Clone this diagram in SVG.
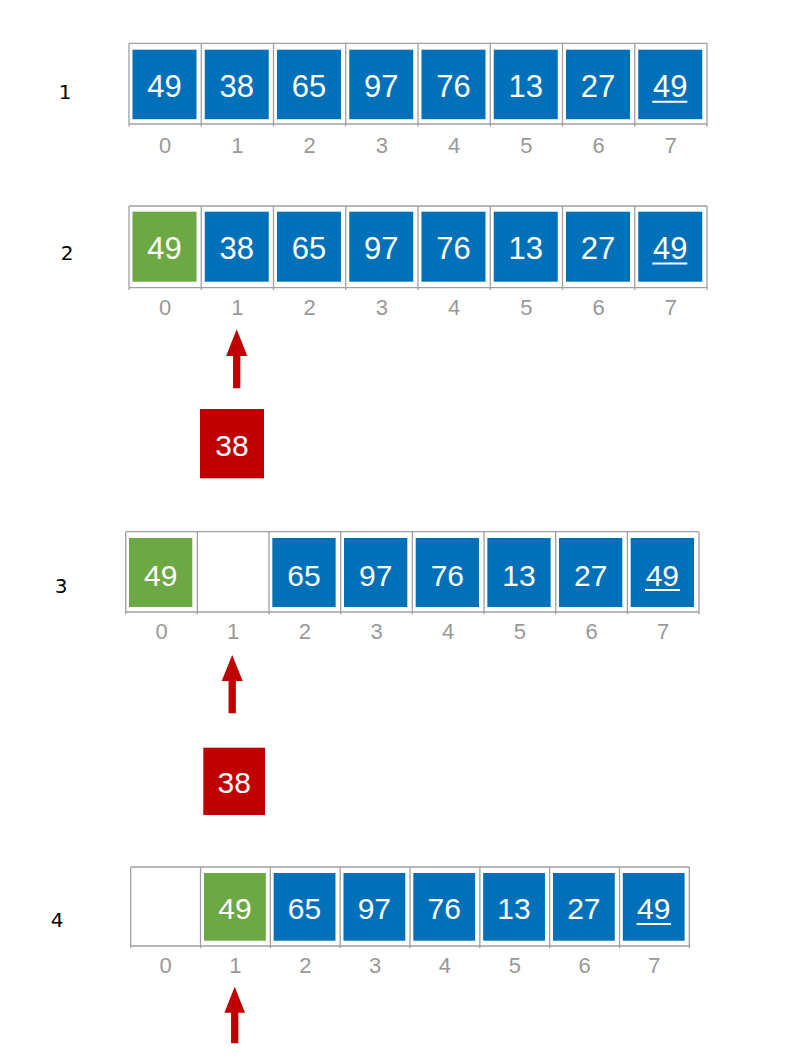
<svg xmlns="http://www.w3.org/2000/svg" width="789" height="1061" viewBox="0 0 789 1061">
<style>
.frame{fill:none;stroke:#A0A0A0;stroke-width:1.3}
.b{fill:#0070B9}
.g{fill:#6CA843}
.r{fill:#C00000}
.v{font-family:"Liberation Sans",Arial,sans-serif;fill:#fff;text-anchor:middle;font-size:31px}
.v2{font-size:30px}
.ix{font-family:"Liberation Sans",Arial,sans-serif;fill:#999;text-anchor:middle;font-size:22px}
.row{font-family:"DejaVu Sans",sans-serif;fill:#000;text-anchor:middle;font-size:20px}
.ul{stroke:#fff;stroke-width:2}
.arr{fill:#C00000}
</style>
<rect width="789" height="1061" fill="#fff"/>

<g id="row1">
<text class="row" x="65" y="99">1</text>
<path class="frame" d="M129,43.3H707M129,124H707M129,43.3V126.5M201.25,43.3V126.5M273.5,43.3V126.5M345.75,43.3V126.5M418,43.3V126.5M490.25,43.3V126.5M562.5,43.3V126.5M634.75,43.3V126.5M707,43.3V126.5"/>
<rect class="b" x="132.5" y="49.7" width="64" height="69.5"/><text class="v" x="164.5" y="97.3">49</text>
<rect class="b" x="204.75" y="49.7" width="64" height="69.5"/><text class="v" x="236.75" y="97.3">38</text>
<rect class="b" x="277" y="49.7" width="64" height="69.5"/><text class="v" x="309" y="97.3">65</text>
<rect class="b" x="349.25" y="49.7" width="64" height="69.5"/><text class="v" x="381.25" y="97.3">97</text>
<rect class="b" x="421.5" y="49.7" width="64" height="69.5"/><text class="v" x="453.5" y="97.3">76</text>
<rect class="b" x="493.75" y="49.7" width="64" height="69.5"/><text class="v" x="525.75" y="97.3">13</text>
<rect class="b" x="566" y="49.7" width="64" height="69.5"/><text class="v" x="598" y="97.3">27</text>
<rect class="b" x="638.25" y="49.7" width="64" height="69.5"/><text class="v" x="670.25" y="97.3">49</text>
<line class="ul" x1="652.3" y1="101.7" x2="687.3" y2="101.7"/>
<text class="ix" x="165.1" y="152.5">0</text><text class="ix" x="237.4" y="152.5">1</text><text class="ix" x="309.6" y="152.5">2</text><text class="ix" x="381.9" y="152.5">3</text><text class="ix" x="454.1" y="152.5">4</text><text class="ix" x="526.4" y="152.5">5</text><text class="ix" x="598.6" y="152.5">6</text><text class="ix" x="670.9" y="152.5">7</text>
</g>

<g id="row2">
<text class="row" x="67" y="260">2</text>
<path class="frame" d="M129,206H707M129,287.7H707M129,206V290M201.25,206V290M273.5,206V290M345.75,206V290M418,206V290M490.25,206V290M562.5,206V290M634.75,206V290M707,206V290"/>
<rect class="g" x="132.5" y="211.7" width="64" height="70"/><text class="v" x="164.5" y="259">49</text>
<rect class="b" x="204.75" y="211.7" width="64" height="70"/><text class="v" x="236.75" y="259">38</text>
<rect class="b" x="277" y="211.7" width="64" height="70"/><text class="v" x="309" y="259">65</text>
<rect class="b" x="349.25" y="211.7" width="64" height="70"/><text class="v" x="381.25" y="259">97</text>
<rect class="b" x="421.5" y="211.7" width="64" height="70"/><text class="v" x="453.5" y="259">76</text>
<rect class="b" x="493.75" y="211.7" width="64" height="70"/><text class="v" x="525.75" y="259">13</text>
<rect class="b" x="566" y="211.7" width="64" height="70"/><text class="v" x="598" y="259">27</text>
<rect class="b" x="638.25" y="211.7" width="64" height="70"/><text class="v" x="670.25" y="259">49</text>
<line class="ul" x1="652.3" y1="263.5" x2="687.3" y2="263.5"/>
<text class="ix" x="165.1" y="314.5">0</text><text class="ix" x="237.4" y="314.5">1</text><text class="ix" x="309.6" y="314.5">2</text><text class="ix" x="381.9" y="314.5">3</text><text class="ix" x="454.1" y="314.5">4</text><text class="ix" x="526.4" y="314.5">5</text><text class="ix" x="598.6" y="314.5">6</text><text class="ix" x="670.9" y="314.5">7</text>
</g>

<g id="temp1">
<rect class="r" x="200" y="409" width="64" height="69.3"/><text class="v v2" x="232" y="455.7">38</text>
</g>

<g id="row3">
<text class="row" x="61" y="593">3</text>
<path class="frame" d="M125.7,531.7H699.06M125.7,612H699.06M125.7,531.7V614.3M197.37,531.7V614.3M269.04,531.7V614.3M340.71,531.7V614.3M412.38,531.7V614.3M484.05,531.7V614.3M555.72,531.7V614.3M627.39,531.7V614.3M699.06,531.7V614.3"/>
<rect class="g" x="129" y="538" width="63.3" height="69"/><text class="v v2" x="160.65" y="585.7">49</text>
<rect class="b" x="272.34" y="538" width="63.3" height="69"/><text class="v v2" x="303.99" y="585.7">65</text>
<rect class="b" x="344.01" y="538" width="63.3" height="69"/><text class="v v2" x="375.66" y="585.7">97</text>
<rect class="b" x="415.68" y="538" width="63.3" height="69"/><text class="v v2" x="447.33" y="585.7">76</text>
<rect class="b" x="487.35" y="538" width="63.3" height="69"/><text class="v v2" x="519" y="585.7">13</text>
<rect class="b" x="559.02" y="538" width="63.3" height="69"/><text class="v v2" x="590.67" y="585.7">27</text>
<rect class="b" x="630.69" y="538" width="63.3" height="69"/><text class="v v2" x="662.34" y="585.7">49</text>
<line class="ul" x1="645" y1="590" x2="680" y2="590"/>
<text class="ix" x="161.5" y="639.2">0</text><text class="ix" x="233.2" y="639.2">1</text><text class="ix" x="304.9" y="639.2">2</text><text class="ix" x="376.6" y="639.2">3</text><text class="ix" x="448.2" y="639.2">4</text><text class="ix" x="519.9" y="639.2">5</text><text class="ix" x="591.6" y="639.2">6</text><text class="ix" x="663.2" y="639.2">7</text>
</g>

<g id="temp2">
<rect class="r" x="203.3" y="747.7" width="61.7" height="67.3"/><text class="v v2" x="234.15" y="793.3">38</text>
</g>

<g id="row4">
<text class="row" x="57" y="927">4</text>
<path class="frame" d="M130.7,867H689.34M130.7,946H689.34M130.7,867V948.3M200.53,867V948.3M270.36,867V948.3M340.19,867V948.3M410.02,867V948.3M479.85,867V948.3M549.68,867V948.3M619.51,867V948.3M689.34,867V948.3"/>
<rect class="g" x="204" y="873" width="61.8" height="67.7"/><text class="v v2" x="234.9" y="919.3">49</text>
<rect class="b" x="273.66" y="873" width="61.8" height="67.7"/><text class="v v2" x="304.56" y="919.3">65</text>
<rect class="b" x="343.49" y="873" width="61.8" height="67.7"/><text class="v v2" x="374.39" y="919.3">97</text>
<rect class="b" x="413.32" y="873" width="61.8" height="67.7"/><text class="v v2" x="444.22" y="919.3">76</text>
<rect class="b" x="483.15" y="873" width="61.8" height="67.7"/><text class="v v2" x="514.05" y="919.3">13</text>
<rect class="b" x="552.98" y="873" width="61.8" height="67.7"/><text class="v v2" x="583.88" y="919.3">27</text>
<rect class="b" x="622.81" y="873" width="61.8" height="67.7"/><text class="v v2" x="653.71" y="919.3">49</text>
<line class="ul" x1="636.7" y1="924" x2="671" y2="924"/>
<text class="ix" x="165.6" y="972.7">0</text><text class="ix" x="235.4" y="972.7">1</text><text class="ix" x="305.3" y="972.7">2</text><text class="ix" x="375.1" y="972.7">3</text><text class="ix" x="444.9" y="972.7">4</text><text class="ix" x="514.8" y="972.7">5</text><text class="ix" x="584.6" y="972.7">6</text><text class="ix" x="654.4" y="972.7">7</text>
</g>

<g id="connectors">
<polygon class="arr" points="236.7,329.3 247.3,356 240.35,356 240.35,388.3 233.05,388.3 233.05,356 226.1,356"/>
<polygon class="arr" points="232.2,655 242.7,681 235.85,681 235.85,713.3 228.55,713.3 228.55,681 221.7,681"/>
<polygon class="arr" points="234.7,986.7 245,1012.7 238.35,1012.7 238.35,1043.3 231.05,1043.3 231.05,1012.7 224.4,1012.7"/>
</g>
</svg>
